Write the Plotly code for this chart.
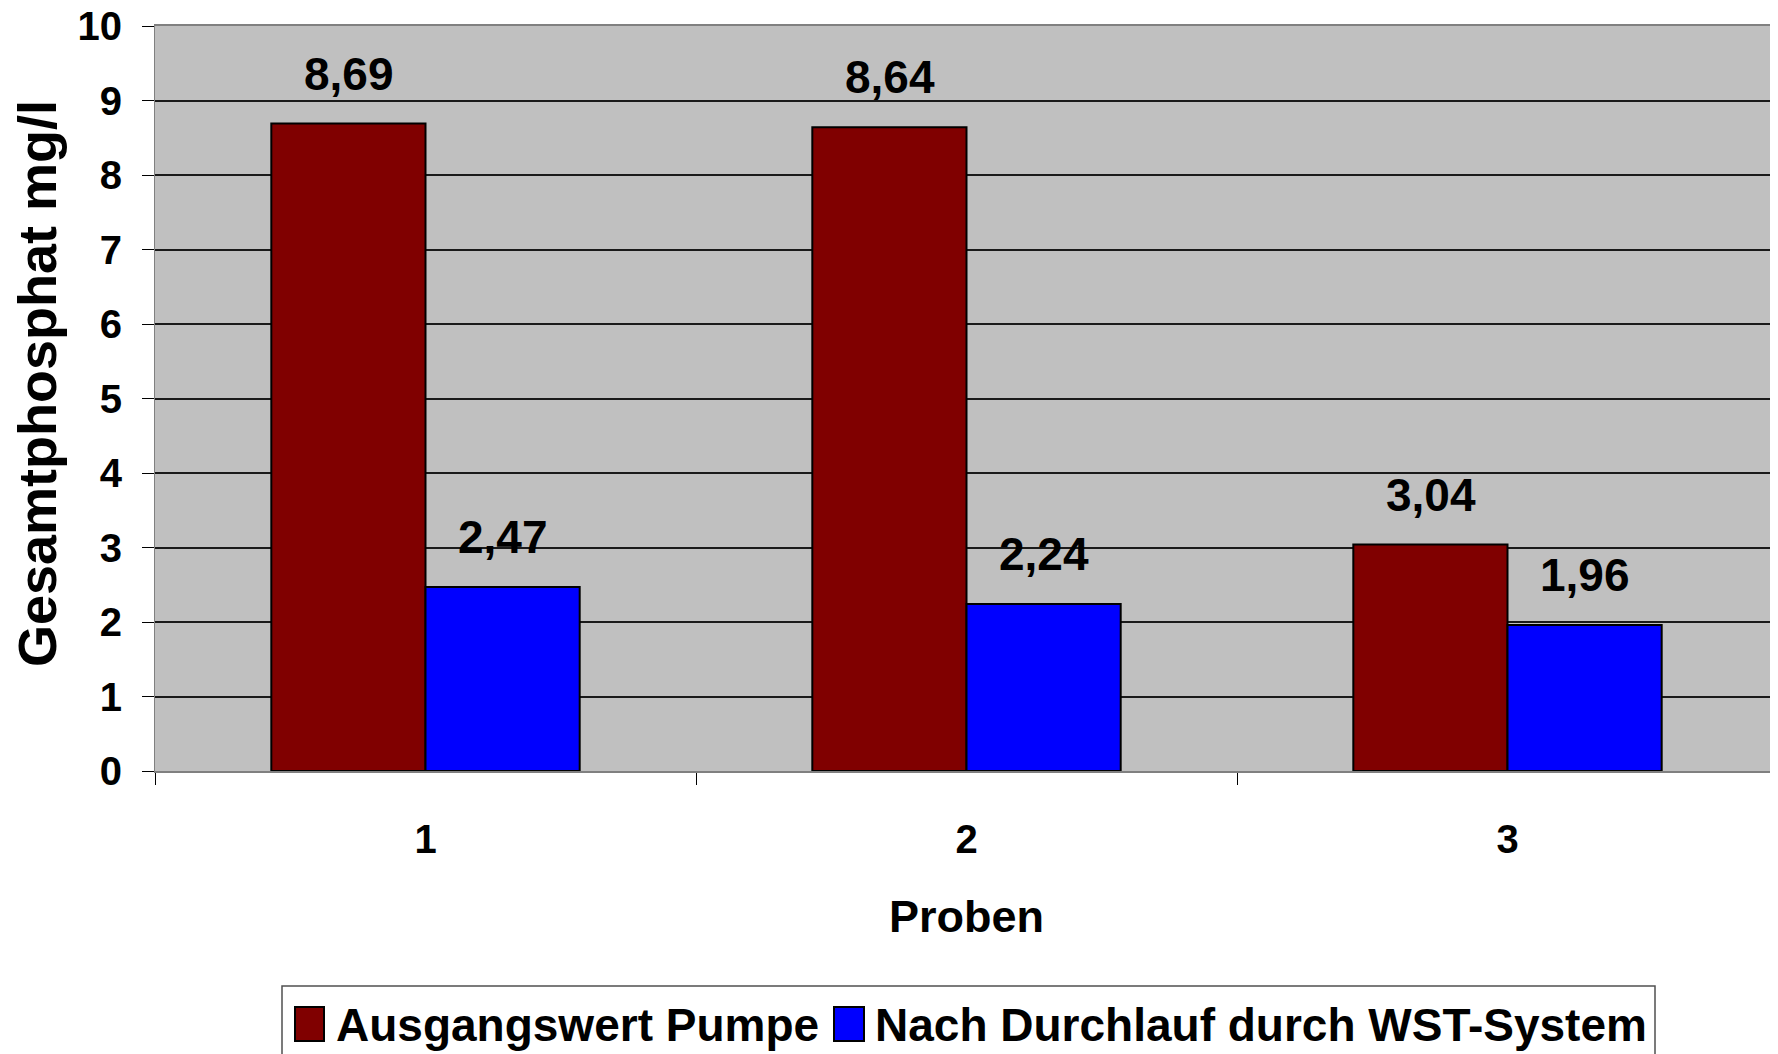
import plotly.graph_objects as go

categories = ["1", "2", "3"]
series_names = ["Ausgangswert Pumpe", "Nach Durchlauf durch WST-System"]
ausgangswert = [8.69, 8.64, 3.04]
nach_durchlauf = [2.47, 2.24, 1.96]
y_ticks = [0, 1, 2, 3, 4, 5, 6, 7, 8, 9, 10]
y_title = "Gesamtphosphat mg/l"
x_title = "Proben"

FONT = "Liberation Sans, Arial, sans-serif"
COLORS = ["#800000", "#0000FF"]

# the page body adds an 8px offset; the figure is sized to fill the rest
OFF = 8
W, H = 1778 - OFF, 1054 - OFF
PL, PR, PT, PB = 155, 1778, 26, 771  # plot area in page pixels
ML, MR, MT, MB = PL - OFF, 0, PT - OFF, H - (PB - OFF)
PW, PH = PR - PL, PB - PT


def px_x(px):
    return (px - PL) / PW


def px_y(py):
    return (PB - py) / PH


fig = go.Figure()
series = [ausgangswert, nach_durchlauf]
for name, vals, col in zip(series_names, series, COLORS):
    fig.add_trace(go.Bar(
        x=categories, y=vals, name=name,
        marker=dict(color=col, line=dict(color="black", width=2)),
        showlegend=False,
    ))

# value labels above each bar (anchored to the data coordinates)
BAR_HALF = 77
annotations = []
for si, vals in enumerate(series):
    shift = -BAR_HALF if si == 0 else BAR_HALF
    for ci, v in enumerate(vals):
        annotations.append(dict(
            x=ci, y=v, xref="x", yref="y", text=f"{v:.2f}".replace(".", ","),
            showarrow=False, xshift=shift, yshift=50, yanchor="middle",
            font=dict(family=FONT, size=46, color="black", weight="bold"),
        ))

# y axis title
annotations.append(dict(
    x=px_x(37), y=px_y(384), xref="paper", yref="paper", text=y_title,
    textangle=-90, showarrow=False, xanchor="center", yanchor="middle",
    font=dict(family=FONT, size=54, color="black", weight="bold"),
))

# legend (drawn manually to match the large swatches)
shapes = [dict(type="rect", xref="paper", yref="paper",
               x0=px_x(282), x1=px_x(1655), y0=px_y(1080), y1=px_y(986),
               line=dict(color="#505050", width=1.5), fillcolor="white", layer="above")]
swatches = [(295, 324, 334), (834, 864, 873)]
for (sx0, sx1, tx), name, col in zip(swatches, series_names, COLORS):
    shapes.append(dict(type="rect", xref="paper", yref="paper",
                       x0=px_x(sx0), x1=px_x(sx1), y0=px_y(1041), y1=px_y(1007),
                       fillcolor=col, line=dict(color="black", width=2), layer="above"))
    annotations.append(dict(
        x=px_x(tx), y=px_y(1025), xref="paper", yref="paper", text=name,
        showarrow=False, xanchor="left", yanchor="middle",
        font=dict(family=FONT, size=46, color="black", weight="bold"),
    ))

fig.update_layout(
    width=W, height=H,
    margin=dict(l=ML, r=MR, t=MT, b=MB, autoexpand=False),
    paper_bgcolor="white", plot_bgcolor="#C0C0C0",
    barmode="group", bargap=0.43, bargroupgap=0,
    separators=", ",
    font=dict(family=FONT, color="black", weight="bold"),
    showlegend=False,
    shapes=shapes,
    annotations=annotations,
    xaxis=dict(
        type="category", range=[-0.5, 2.5], automargin=False,
        showline=True, linecolor="#808080", linewidth=2, mirror=True,
        ticks="outside", tickson="boundaries", ticklen=12, tickcolor="black", tickwidth=1,
        tickfont=dict(family=FONT, size=40, color="black", weight="bold"),
        ticklabelstandoff=32,
        title=dict(text=x_title, standoff=40,
                   font=dict(family=FONT, size=45, color="black", weight="bold")),
        showgrid=False,
    ),
    yaxis=dict(
        range=[0, 10], tickvals=y_ticks, ticktext=[str(v) for v in y_ticks],
        automargin=False, ticklabeloverflow="allow",
        showline=True, linecolor="#808080", linewidth=1,
        ticks="outside", ticklen=12, tickcolor="black", tickwidth=1,
        tickfont=dict(family=FONT, size=40, color="black", weight="bold"),
        ticklabelstandoff=12,
        showgrid=True, gridcolor="#1a1a1a", gridwidth=1.5,
        zeroline=False,
    ),
)

fig.write_html("out.html")
